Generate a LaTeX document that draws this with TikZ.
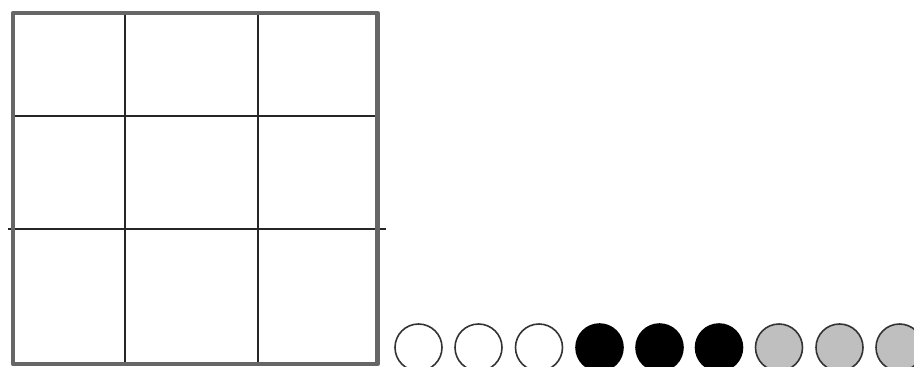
\documentclass[tikz,border=0pt]{standalone}
\usepackage{tikz}

\begin{document}
\begin{tikzpicture}[x=1pt,y=-1pt,
  outerline/.style={black!60, line width=4.5pt},
  innerline/.style={black!85, line width=2.5pt},
  bead/.style={circle, draw=black!80, line width=1.6pt, minimum size=47pt, inner sep=0pt}]
\useasboundingbox[fill=white] (0,0) rectangle (914,367);
% inner grid lines
\draw[innerline] (125,13) -- (125,364);
\draw[innerline] (258,13) -- (258,364);
\draw[innerline] (13,116) -- (378,116);
\draw[innerline] (8,229) -- (386,229);
% outer frame
\draw[outerline, line cap=round, line join=round] (13,13) rectangle (377.5,364);
% row of beads
\node[bead, fill=white] (w1) at (418.5,347.5) {};
\node[bead, fill=white] (w2) at (478.5,347.5) {};
\node[bead, fill=white] (w3) at (539,347.5) {};
\node[bead, fill=black, draw=black] (b1) at (599.5,347.5) {};
\node[bead, fill=black, draw=black] (b2) at (659.5,347.5) {};
\node[bead, fill=black, draw=black] (b3) at (719,347.5) {};
\node[bead, fill=black!25] (g1) at (779,347.5) {};
\node[bead, fill=black!25] (g2) at (839.5,347.5) {};
\node[bead, fill=black!25] (g3) at (899.5,347.5) {};
\end{tikzpicture}
\end{document}
